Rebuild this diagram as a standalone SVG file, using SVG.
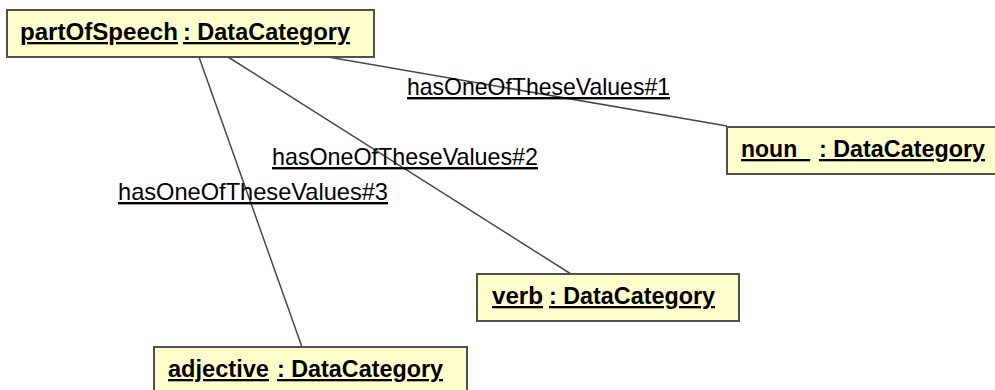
<svg xmlns="http://www.w3.org/2000/svg" width="995" height="390" viewBox="0 0 995 390">
  <style>
    .box { fill: #ffffcc; stroke: #505050; stroke-width: 2; }
    .name { font-family: "Liberation Sans", Arial, sans-serif; font-weight: bold; font-size: 23px; fill: #000; text-decoration: underline; }
    .link { stroke: #484848; stroke-width: 1.5; fill: none; }
    .role { font-family: "Liberation Sans", Arial, sans-serif; font-size: 24px; fill: #000; text-decoration: underline; }
  </style>
  <rect width="995" height="390" fill="#ffffff"/>

  <!-- associations, centre to centre, clipped at box edges -->
  <g id="connectors">
    <line class="link" x1="328" y1="57" x2="727" y2="126"/>
    <line class="link" x1="228" y1="57" x2="571" y2="274"/>
    <line class="link" x1="199" y1="57" x2="302" y2="347"/>
    <text class="role" x="407" y="95" textLength="263" lengthAdjust="spacingAndGlyphs">hasOneOfTheseValues#1</text>
    <text class="role" x="272" y="165" textLength="266" lengthAdjust="spacingAndGlyphs">hasOneOfTheseValues#2</text>
    <text class="role" x="118" y="200" textLength="270" lengthAdjust="spacingAndGlyphs">hasOneOfTheseValues#3</text>
  </g>

  <g id="partOfSpeech">
    <rect class="box" x="7" y="10" width="367" height="47"/>
    <text class="name" x="20" y="40" textLength="158" lengthAdjust="spacingAndGlyphs">partOfSpeech</text>
    <text class="name" x="183" y="40" textLength="167" lengthAdjust="spacingAndGlyphs">: DataCategory</text>
  </g>

  <g id="noun">
    <rect class="box" x="727" y="127" width="290" height="47"/>
    <text class="name" x="741" y="157" textLength="69" lengthAdjust="spacingAndGlyphs">noun_</text>
    <text class="name" x="819" y="157" textLength="166" lengthAdjust="spacingAndGlyphs">: DataCategory</text>
  </g>

  <g id="verb">
    <rect class="box" x="477" y="274" width="262" height="47"/>
    <text class="name" x="492" y="304" textLength="51" lengthAdjust="spacingAndGlyphs">verb</text>
    <text class="name" x="549" y="304" textLength="166" lengthAdjust="spacingAndGlyphs">: DataCategory</text>
  </g>

  <g id="adjective">
    <rect class="box" x="154" y="347" width="313" height="47"/>
    <text class="name" x="168" y="377" textLength="101" lengthAdjust="spacingAndGlyphs">adjective</text>
    <text class="name" x="277" y="377" textLength="166" lengthAdjust="spacingAndGlyphs">: DataCategory</text>
  </g>
</svg>
